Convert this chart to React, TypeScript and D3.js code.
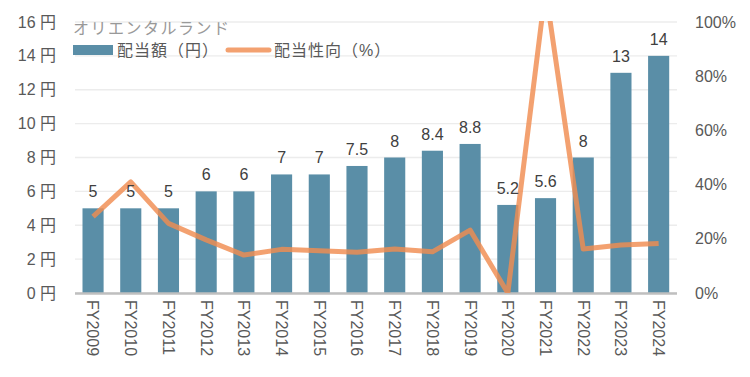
import React from "react";
import * as d3 from "d3";

const categories = ["FY2009","FY2010","FY2011","FY2012","FY2013","FY2014","FY2015","FY2016","FY2017","FY2018","FY2019","FY2020","FY2021","FY2022","FY2023","FY2024"];
const dividends = [5, 5, 5, 6, 6, 7, 7, 7.5, 8, 8.4, 8.8, 5.2, 5.6, 8, 13, 14];
const payout = [28.2, 41, 25.7, 19.6, 14, 16.1, 15.6, 15, 16.2, 15.2, 23.2, 0, 112, 16.2, 17.7, 18.3];
const leftTicks = [0, 2, 4, 6, 8, 10, 12, 14, 16];
const rightTicks = [0, 20, 40, 60, 80, 100];
const title = "オリエンタルランド";
const seriesNames = ["配当額（円）", "配当性向（%）"];

const W = 750, H = 377;
const L = 75, R = 677, T = 22, B = 293;
const FONT = "'Liberation Sans', Arial, 'Noto Sans CJK JP', sans-serif";
const TXT = "#595959";
const BAR = "#5a8ea7";
const LINE = "#f08c50";

export default function App() {
  const x = d3.scaleBand<string>().domain(categories).range([74.2, 677.5]).paddingInner(0.44).paddingOuter(0.22);
  const yL = d3.scaleLinear().domain([0, 16]).range([B, T]);
  const yR = d3.scaleLinear().domain([0, 100]).range([B, T]);
  const line = d3.line<number>()
    .x((_, i) => (x(categories[i]) as number) + x.bandwidth() / 2)
    .y((d) => yR(d));
  return (
    <svg width={W} height={H} style={{ position: "absolute", left: 0, top: 0, fontFamily: FONT }}>
      <defs>
        <clipPath id="plot"><rect x={L} y={T - 1} width={R - L} height={B - T + 1} /></clipPath>
      </defs>
      <rect width={W} height={H} fill="#fff" />
      {leftTicks.map((t) => (
        <line key={"g" + t} x1={L} x2={R} y1={yL(t)} y2={yL(t)} stroke="#ececec" strokeWidth={1.3} />
      ))}
      {leftTicks.map((t) => (
        <text key={"l" + t} x={56} y={yL(t)} dy="0.35em" textAnchor="end" fontSize={16} fill={TXT}>{t + " 円"}</text>
      ))}
      {rightTicks.map((t) => (
        <text key={"r" + t} x={695} y={yR(t)} dy="0.35em" textAnchor="start" fontSize={16} fill={TXT}>{t + "%"}</text>
      ))}
      {dividends.map((d, i) => (
        <rect key={"b" + i} x={x(categories[i])} y={yL(d)} width={x.bandwidth()} height={B - yL(d)} fill={BAR} />
      ))}
      <line x1={L} x2={R} y1={B + 0.5} y2={B + 0.5} stroke="#bfbfbf" strokeWidth={2.5} />
      <path d={line(payout) || ""} fill="none" stroke={LINE} strokeOpacity={0.82} strokeWidth={5} strokeLinejoin="round" clipPath="url(#plot)" />
      {dividends.map((d, i) => (
        <text key={"v" + i} x={(x(categories[i]) as number) + x.bandwidth() / 2} y={yL(d) - 11} textAnchor="middle" fontSize={16} fill="#404040">{String(d)}</text>
      ))}
      {categories.map((c) => {
        const cx = (x(c) as number) + x.bandwidth() / 2;
        return (
          <text key={"x" + c} transform={`translate(${cx},300) rotate(90)`} dy="0.35em" textAnchor="start" fontSize={16} fill={TXT}>{c}</text>
        );
      })}
      <text x={73} y={28} dy="0.35em" fontSize={16} fill="#999999" letterSpacing={1.5}>{title}</text>
      <rect x={73} y={45} width={40} height={10} fill={BAR} />
      <text x={117} y={50} dy="0.35em" fontSize={16} fill={TXT} letterSpacing={1}>{seriesNames[0]}</text>
      <line x1={228} x2={269} y1={50} y2={50} stroke={LINE} strokeOpacity={0.82} strokeWidth={5} strokeLinecap="round" />
      <text x={274} y={50} dy="0.35em" fontSize={16} fill={TXT} letterSpacing={1}>{seriesNames[1]}</text>
    </svg>
  );
}
